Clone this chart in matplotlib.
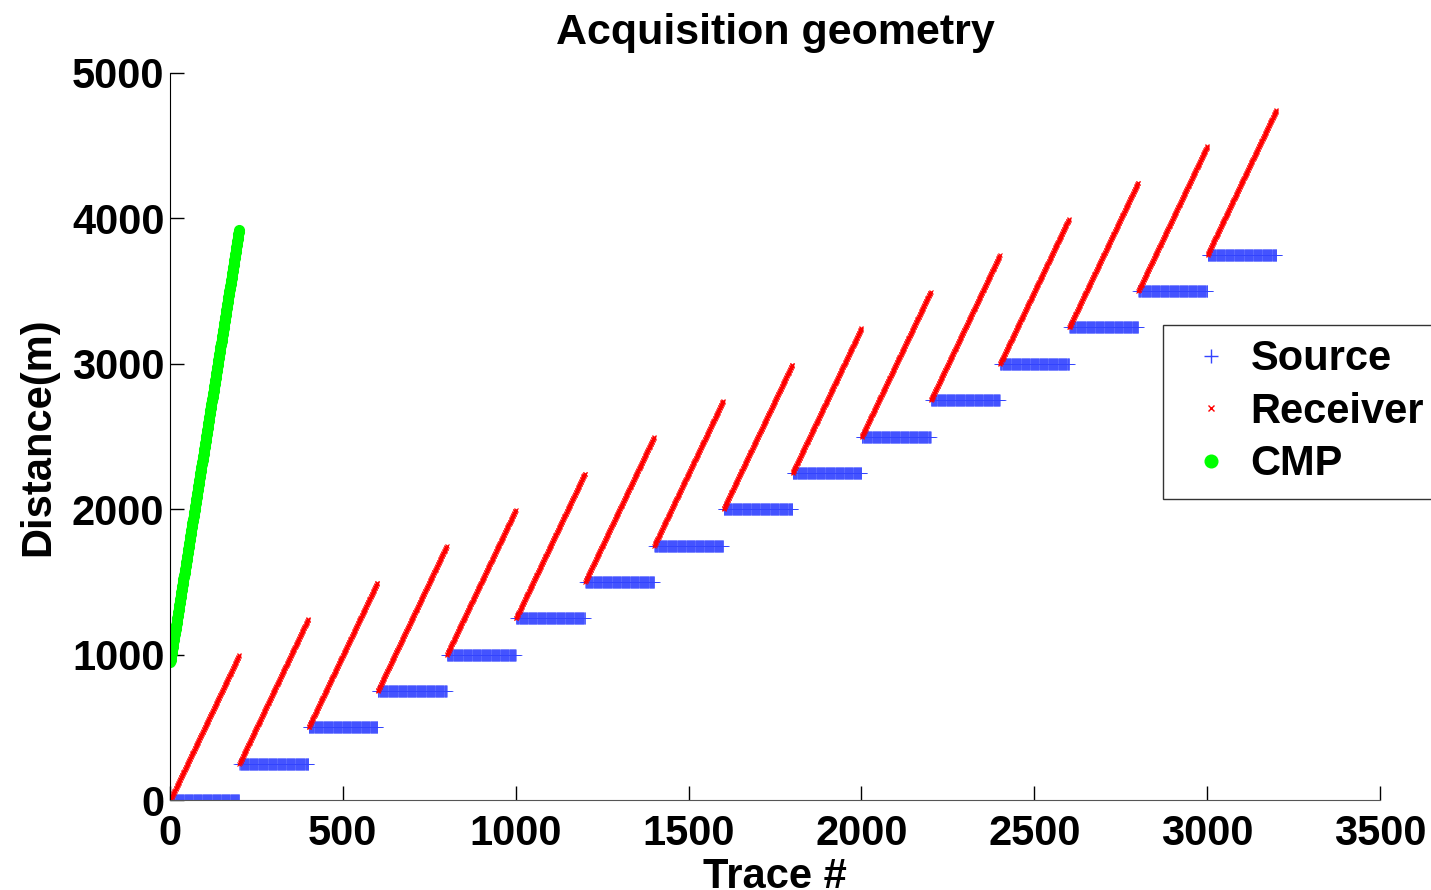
import numpy as np
import matplotlib
matplotlib.use("Agg")
import matplotlib.pyplot as plt

# acquisition parameters
n_shots = 16
traces_per_shot = 200
shot_spacing = 250.0          # m between shots
receiver_spacing = 5.0        # m between receivers
cmp_first = 950.0             # CMP curve at trace 1 (m)
cmp_last = 3920.0             # CMP curve at trace 200 (m)

trace = []
source = []
receiver = []
for i in range(n_shots):
    for j in range(traces_per_shot):
        trace.append(i * traces_per_shot + j + 1)
        source.append(i * shot_spacing)
        receiver.append(i * shot_spacing + j * receiver_spacing)
trace = np.array(trace)
source = np.array(source)
receiver = np.array(receiver)

cmp_trace = np.arange(1, traces_per_shot + 1)
cmp = np.linspace(cmp_first, cmp_last, traces_per_shot)

plt.rcParams["font.family"] = ["Liberation Sans", "DejaVu Sans"]
plt.rcParams["font.weight"] = "bold"

fig = plt.figure(figsize=(14.31, 8.90), dpi=100)
ax = fig.add_axes([0.1188, 0.1011, 0.8456, 0.8169])

ax.plot(trace, source, "+", color="#3344ff", markersize=8, markeredgewidth=0.4,
        label="Source")
ax.plot(trace, receiver, "rx", markersize=3, markeredgewidth=0.8, label="Receiver")
ax.plot(cmp_trace, cmp, "o", color=(0, 1, 0), markersize=7, label="CMP")

ax.set_xlim(0, 3500)
ax.set_ylim(0, 5000)
ax.set_xticks(np.arange(0, 3501, 500))
ax.set_yticks(np.arange(0, 5001, 1000))
ax.tick_params(direction="in", length=10, width=1, labelsize=30)
ax.tick_params(axis="x", pad=10)
ax.tick_params(axis="y", pad=4)
ax.spines["top"].set_visible(False)
ax.spines["right"].set_visible(False)
ax.spines["bottom"].set_color("#555555")

ax.set_title("Acquisition geometry", fontsize=31, fontweight="bold", pad=21)
ax.set_xlabel("Trace #", fontsize=30, fontweight="bold", labelpad=2)
ax.set_ylabel("Distance(m)", fontsize=30, fontweight="bold", labelpad=10)

leg = ax.legend(loc="upper left", bbox_to_anchor=(0.8127, 0.635),
                bbox_transform=fig.transFigure, fontsize=30, frameon=True,
                fancybox=False, edgecolor="black", borderpad=0.35,
                borderaxespad=0, labelspacing=0.3, handlelength=1.6,
                handletextpad=0.15, markerscale=1.3)
leg.get_frame().set_linewidth(1)
for h in leg.legend_handles:
    h.set_markeredgewidth(1.0)

fig.savefig("out.png", dpi=100)
